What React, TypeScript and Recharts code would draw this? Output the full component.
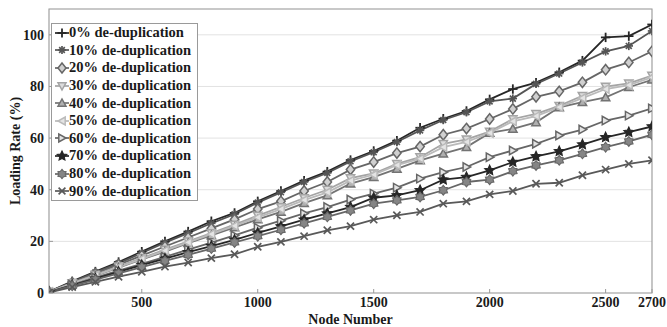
import React from 'react';
import { LineChart, Line, XAxis, YAxis, CartesianGrid, Legend, ReferenceArea } from 'recharts';

const nodeNumbers = [100, 200, 300, 400, 500, 600, 700, 800, 900, 1000, 1100, 1200, 1300, 1400, 1500, 1600, 1700, 1800, 1900, 2000, 2100, 2200, 2300, 2400, 2500, 2600, 2700];

const dedup0 = [0.5, 4.5, 8.3, 12, 16, 20, 23.8, 27.8, 31, 35.5, 39.5, 43.5, 47, 51.5, 55, 59, 64, 67.5, 70.5, 75, 79, 81.5, 85.5, 90, 99, 99.5, 104];
const dedup10 = [0.5, 4.2, 8, 11.5, 15.5, 19.5, 23.2, 27, 30.5, 35, 39, 43, 46.5, 51, 54.5, 58.5, 63, 67, 70, 74.2, 75.3, 81, 85, 89.3, 93.6, 95.7, 101.5];
const dedup20 = [0.5, 4, 7.5, 11, 14.5, 18, 21.5, 25, 28.5, 32.5, 35.5, 39.5, 43, 47.8, 50.7, 54.2, 56.7, 61.3, 63.7, 67.4, 71.3, 76, 78.1, 81.6, 86.5, 89.3, 93.6];
const dedup30 = [0.4, 3.8, 7, 10.3, 13.5, 16.8, 20, 23.2, 26.5, 30, 33.3, 36.8, 40, 44.5, 46.3, 50, 52.6, 57.8, 59.5, 62.5, 67.4, 69.4, 72.5, 76.4, 79.9, 81.2, 84.2];
const dedup40 = [0.4, 3.6, 6.7, 9.8, 13, 16, 19.3, 22.3, 25.4, 28.5, 31.4, 34.8, 37.8, 42.4, 44.9, 48.1, 51.4, 54, 56.5, 62, 63.6, 66.1, 71.9, 73.9, 75.8, 79.7, 82.6];
const dedup50 = [0.4, 3.7, 6.8, 10, 13.2, 16.4, 19.6, 22.8, 26, 29.3, 32.5, 36, 39, 43.5, 45.8, 49.5, 52, 56.5, 58.5, 62, 66.5, 68.5, 72, 75.5, 79, 80.5, 83.5];
const dedup60 = [0.3, 3.2, 6, 8.7, 11.3, 14, 16.8, 19.5, 22.3, 25.3, 28, 30.8, 33.3, 36.2, 38.5, 40.8, 44.3, 46.8, 48.8, 52.6, 55.2, 57.8, 61, 63.3, 66.8, 68.7, 71.5];
const dedup70 = [0.3, 3, 5.6, 8.2, 10.8, 13.3, 15.8, 18.2, 20.6, 23.3, 25.8, 28.4, 30.8, 33.3, 36.9, 37.8, 39.8, 43.9, 44.9, 47.5, 50.7, 52.9, 54.9, 57.5, 60.3, 62.3, 64.5];
const dedup80 = [0.3, 2.8, 5.2, 7.6, 10, 12.4, 14.8, 17.2, 19.6, 22, 24.5, 27, 29.5, 32, 34.6, 35.9, 37.2, 39.8, 43, 43.9, 47.2, 49.4, 51.4, 53.9, 56.5, 58.7, 61.3];
const dedup90 = [0.2, 2.3, 4.3, 6.3, 8.2, 10.2, 11.8, 13.5, 15, 17.9, 19.8, 22, 24.3, 25.9, 28.4, 30.1, 31.4, 34.6, 35.5, 38.2, 39.5, 42.3, 42.7, 45.6, 47.8, 50, 51.4];

const seriesNames = ['0% de-duplication', '10% de-duplication', '20% de-duplication', '30% de-duplication', '40% de-duplication', '50% de-duplication', '60% de-duplication', '70% de-duplication', '80% de-duplication', '90% de-duplication'];
const xTicks = [500, 1000, 1500, 2000, 2500, 2700];
const yTicks = [0, 20, 40, 60, 80, 100];

const FONT = '"Liberation Serif", "DejaVu Serif", serif';

const seriesDefs = [
  { key: 's0', name: seriesNames[0], values: dedup0, color: '#262626', marker: 'plus', fill: '#262626' },
  { key: 's1', name: seriesNames[1], values: dedup10, color: '#555555', marker: 'asterisk', fill: '#555555' },
  { key: 's2', name: seriesNames[2], values: dedup20, color: '#666666', marker: 'diamond', fill: '#d0d0d0' },
  { key: 's3', name: seriesNames[3], values: dedup30, color: '#a4a4a4', marker: 'tridown', fill: '#dcdcdc' },
  { key: 's4', name: seriesNames[4], values: dedup40, color: '#737373', marker: 'triup', fill: '#b0b0b0' },
  { key: 's5', name: seriesNames[5], values: dedup50, color: '#bababa', marker: 'trileft', fill: '#e4e4e4' },
  { key: 's6', name: seriesNames[6], values: dedup60, color: '#666666', marker: 'triright', fill: '#e4e4e4' },
  { key: 's7', name: seriesNames[7], values: dedup70, color: '#262626', marker: 'pentagram', fill: '#262626' },
  { key: 's8', name: seriesNames[8], values: dedup80, color: '#666666', marker: 'hexagram', fill: '#858585' },
  { key: 's9', name: seriesNames[9], values: dedup90, color: '#595959', marker: 'cross', fill: '#595959' },
];

const data = nodeNumbers.map((n, i) => {
  const row: any = { node: n };
  seriesDefs.forEach((s) => { row[s.key] = s.values[i]; });
  return row;
});

function starPoints(cx: number, cy: number, n: number, ro: number, ri: number) {
  const pts: string[] = [];
  for (let k = 0; k < n * 2; k++) {
    const r = k % 2 === 0 ? ro : ri;
    const a = -Math.PI / 2 + (k * Math.PI) / n;
    pts.push(`${cx + r * Math.cos(a)},${cy + r * Math.sin(a)}`);
  }
  return pts.join(' ');
}

function MarkerShape({ kind, cx, cy, stroke, fill, s = 4 }: any) {
  if (cx == null || cy == null) return null;
  switch (kind) {
    case 'plus':
      return (
        <g stroke={stroke} strokeWidth={1.8}>
          <line x1={cx - s - 0.5} y1={cy} x2={cx + s + 0.5} y2={cy} />
          <line x1={cx} y1={cy - s - 0.5} x2={cx} y2={cy + s + 0.5} />
        </g>
      );
    case 'asterisk':
      return (
        <g stroke={stroke} strokeWidth={1.7}>
          <line x1={cx - s} y1={cy} x2={cx + s} y2={cy} />
          <line x1={cx} y1={cy - s} x2={cx} y2={cy + s} />
          <line x1={cx - s * 0.7} y1={cy - s * 0.7} x2={cx + s * 0.7} y2={cy + s * 0.7} />
          <line x1={cx - s * 0.7} y1={cy + s * 0.7} x2={cx + s * 0.7} y2={cy - s * 0.7} />
        </g>
      );
    case 'diamond':
      return <polygon points={`${cx},${cy - s - 1} ${cx + s},${cy} ${cx},${cy + s + 1} ${cx - s},${cy}`} stroke={stroke} strokeWidth={1.5} fill={fill} />;
    case 'tridown':
      return <polygon points={`${cx - s},${cy - s * 0.8} ${cx + s},${cy - s * 0.8} ${cx},${cy + s}`} stroke={stroke} strokeWidth={1.5} fill={fill} />;
    case 'triup':
      return <polygon points={`${cx - s},${cy + s * 0.8} ${cx + s},${cy + s * 0.8} ${cx},${cy - s}`} stroke={stroke} strokeWidth={1.5} fill={fill} />;
    case 'trileft':
      return <polygon points={`${cx + s * 0.8},${cy - s} ${cx + s * 0.8},${cy + s} ${cx - s},${cy}`} stroke={stroke} strokeWidth={1.5} fill={fill} />;
    case 'triright':
      return <polygon points={`${cx - s * 0.8},${cy - s} ${cx - s * 0.8},${cy + s} ${cx + s},${cy}`} stroke={stroke} strokeWidth={1.5} fill={fill} />;
    case 'pentagram':
      return <polygon points={starPoints(cx, cy, 5, s + 1, (s + 1) * 0.48)} stroke={stroke} strokeWidth={1.1} fill={fill} />;
    case 'hexagram':
      return <polygon points={starPoints(cx, cy, 6, s + 0.7, (s + 0.7) * 0.68)} stroke={stroke} strokeWidth={1.1} fill={fill} />;
    case 'cross':
      return (
        <g stroke={stroke} strokeWidth={1.7}>
          <line x1={cx - s * 0.85} y1={cy - s * 0.85} x2={cx + s * 0.85} y2={cy + s * 0.85} />
          <line x1={cx - s * 0.85} y1={cy + s * 0.85} x2={cx + s * 0.85} y2={cy - s * 0.85} />
        </g>
      );
    default:
      return null;
  }
}

const renderLegend = () => (
  <div
    style={{
      border: '1px solid #9a9a9a',
      background: '#ffffff',
      width: 147,
      height: 178,
      boxSizing: 'border-box',
      paddingTop: 0,
    }}
  >
    {seriesDefs.map((s) => (
      <div key={s.key} style={{ display: 'flex', alignItems: 'center', height: 17.6 }}>
        <svg width={16} height={14} style={{ flex: 'none', marginLeft: 1 }}>
          <line x1={2} y1={7} x2={16} y2={7} stroke={s.color} strokeWidth={1.7} />
          <MarkerShape kind={s.marker} cx={9} cy={7} stroke={s.color} fill={s.fill} s={4} />
        </svg>
        <span style={{ fontFamily: FONT, fontWeight: 'bold', fontSize: 14.5, color: '#1a1a1a', whiteSpace: 'nowrap', lineHeight: '17px' }}>
          {s.name}
        </span>
      </div>
    ))}
  </div>
);

const XTick = (props: any) => {
  const { x, y, payload } = props;
  return (
    <g>
      <line x1={x} y1={y - 4} x2={x} y2={y - 8} stroke="#999" strokeWidth={1} />
      <text x={x} y={y} dy="0.71em" textAnchor="middle" fontFamily={FONT} fontWeight="bold" fontSize={14} fill="#1a1a1a">
        {payload.value}
      </text>
    </g>
  );
};

const YTick = (props: any) => {
  const { x, y, payload } = props;
  return (
    <g>
      <line x1={x + 5} y1={y} x2={x + 9} y2={y} stroke="#999" strokeWidth={1} />
      <text x={x} y={y} dy="0.355em" textAnchor="end" fontFamily={FONT} fontWeight="bold" fontSize={14} fill="#1a1a1a">
        {payload.value}
      </text>
    </g>
  );
};

export default function App() {
  return (
    <div style={{ position: 'absolute', left: 0, top: 0, width: 667, height: 327, background: '#fff' }}>
      <LineChart width={667} height={327} data={data} margin={{ top: 9, right: 15, bottom: 0, left: 0 }}>
        <CartesianGrid vertical={false} stroke="#e2e2e2" strokeWidth={1} />
        <XAxis
          dataKey="node"
          type="number"
          domain={[100, 2700]}
          ticks={xTicks}
          allowDataOverflow
          height={34}
          axisLine={false}
          tickLine={false}
          tickSize={0}
          tickMargin={4}
          tick={<XTick />}
          interval={0}
          label={{ value: 'Node Number', position: 'insideBottom', offset: 3, style: { fontFamily: FONT, fontWeight: 'bold', fontSize: 14, fill: '#1a1a1a' } }}
        />
        <YAxis
          type="number"
          domain={[0, 110]}
          ticks={yTicks}
          allowDataOverflow
          width={49}
          axisLine={false}
          tickLine={false}
          tickSize={0}
          tickMargin={5}
          tick={<YTick />}
          interval={0}
          label={{ value: 'Loading Rate (%)', angle: -90, position: 'insideLeft', offset: 15, style: { textAnchor: 'middle', fontFamily: FONT, fontWeight: 'bold', fontSize: 14, fill: '#1a1a1a' } }}
        />
        <ReferenceArea x1={100} x2={2700} y1={0} y2={110} stroke="#a0a0a0" strokeWidth={1.2} fill="none" fillOpacity={0} />
        {seriesDefs.map((s) => (
          <Line
            key={s.key}
            dataKey={s.key}
            name={s.name}
            type="linear"
            stroke={s.color}
            strokeWidth={1.8}
            isAnimationActive={false}
            legendType="none"
            dot={(p: any) => (
              <MarkerShape key={`${s.key}-${p.index}`} kind={s.marker} cx={p.cx} cy={p.cy} stroke={s.color} fill={s.fill} s={4.2} />
            )}
            activeDot={false}
          />
        ))}
        <Legend
          layout="horizontal"
          verticalAlign="middle"
          align="center"
          content={renderLegend}
          wrapperStyle={{ position: 'absolute', left: 51, top: 23, width: 147, height: 178 }}
        />
      </LineChart>
    </div>
  );
}
